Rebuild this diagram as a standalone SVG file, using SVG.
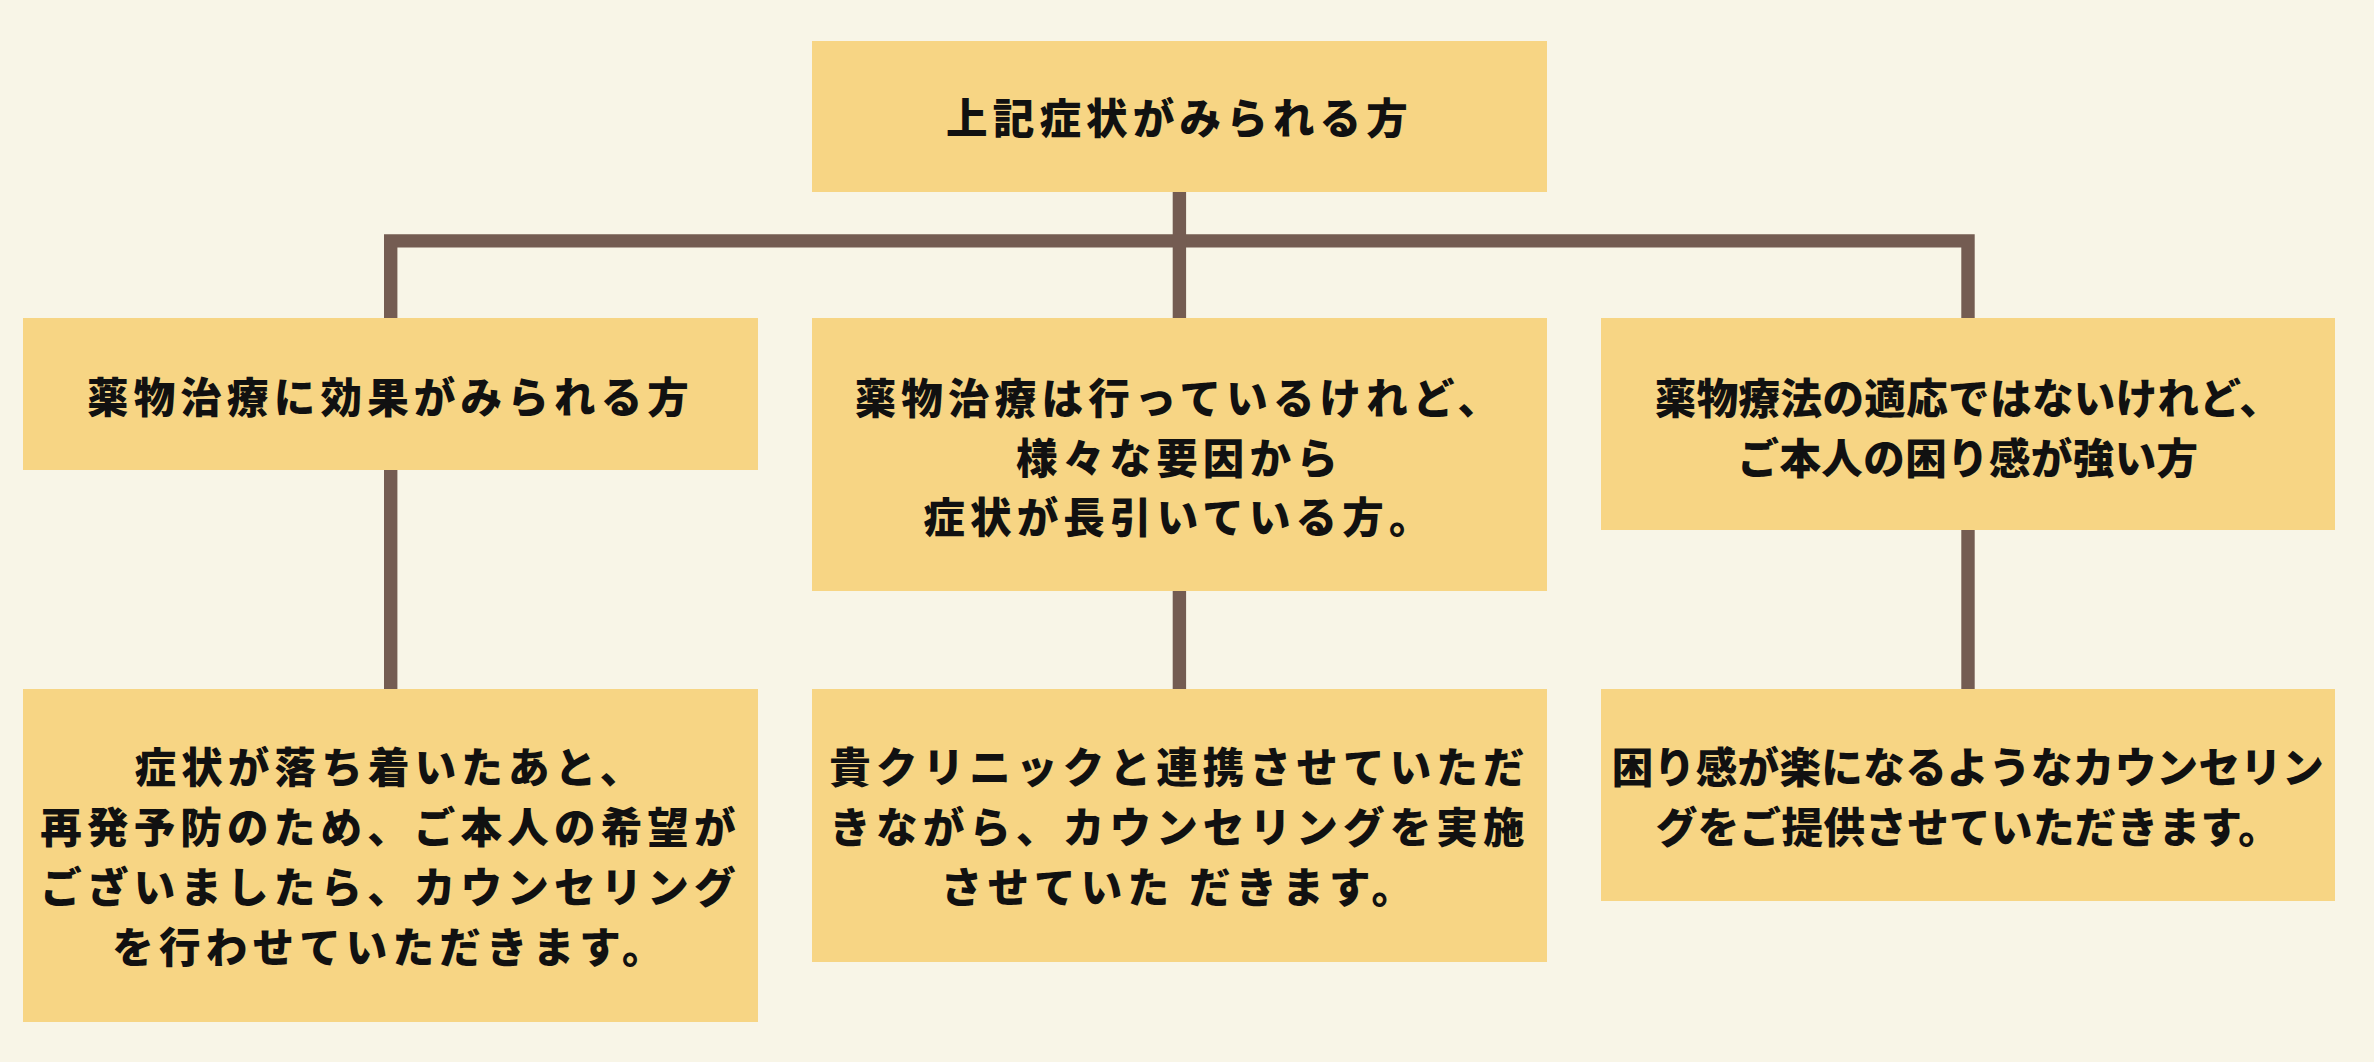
<svg xmlns="http://www.w3.org/2000/svg" width="2374" height="1062" viewBox="0 0 2374 1062">
  <style>
    .bg { fill: #F8F5E7; }
    .box { fill: #F7D584; }
    .line { fill: none; stroke: #745C52; stroke-width: 13.4; stroke-linejoin: miter; stroke-linecap: butt; }
    .t { font-family: "Noto Sans CJK JP", "Noto Sans", sans-serif; font-weight: 900; font-size: 41.5px; fill: #111111; text-anchor: middle; letter-spacing: 5.2px; }
    .tn { letter-spacing: 0.4px; }
  </style>
  <rect class="bg" x="0" y="0" width="2374" height="1062"/>

  <g id="connectors">
    <path class="line" d="M390.7,318 V240.9 H1968 V318"/>
    <path class="line" d="M1179.4,192 V318"/>
    <path class="line" d="M390.7,470 V689"/>
    <path class="line" d="M1179.4,591 V689"/>
    <path class="line" d="M1968,530 V689"/>
  </g>

  <g id="node-top">
    <rect class="box" x="812" y="41" width="735" height="151"/>
    <text class="t" x="1179.5" y="133.5">上記症状がみられる方</text>
  </g>

  <g id="node-left">
    <rect class="box" x="23" y="318" width="735" height="152"/>
    <text class="t" x="390.5" y="412.5">薬物治療に効果がみられる方</text>
  </g>

  <g id="node-middle">
    <rect class="box" x="812" y="318" width="735" height="273"/>
    <text class="t" x="1179.5" y="413.5">薬物治療は行っているけれど、</text>
    <text class="t" x="1179.5" y="473.5">様々な要因から</text>
    <text class="t" x="1179.5" y="533">症状が長引いている方。</text>
  </g>

  <g id="node-right">
    <rect class="box" x="1601" y="318" width="734" height="212"/>
    <text class="t tn" x="1968" y="413.5">薬物療法の適応ではないけれど、</text>
    <text class="t tn" x="1968" y="473.5">ご本人の困り感が強い方</text>
  </g>

  <g id="node-left-result">
    <rect class="box" x="23" y="689" width="735" height="333"/>
    <text class="t" x="390.5" y="782.5">症状が落ち着いたあと、</text>
    <text class="t" x="390.5" y="842.5">再発予防のため、ご本人の希望が</text>
    <text class="t" x="390.5" y="902.5">ございましたら、カウンセリング</text>
    <text class="t" x="390.5" y="962.5">を行わせていただきます。</text>
  </g>

  <g id="node-middle-result">
    <rect class="box" x="812" y="689" width="735" height="273"/>
    <text class="t" x="1179.5" y="782.5">貴クリニックと連携させていただ</text>
    <text class="t" x="1179.5" y="842.5">きながら、カウンセリングを実施</text>
    <text class="t" x="1179.5" y="902.5">させていた だきます。</text>
  </g>

  <g id="node-right-result">
    <rect class="box" x="1601" y="689" width="734" height="212"/>
    <text class="t tn" x="1968" y="782.5">困り感が楽になるようなカウンセリン</text>
    <text class="t tn" x="1968" y="842.5">グをご提供させていただきます。</text>
  </g>
</svg>
